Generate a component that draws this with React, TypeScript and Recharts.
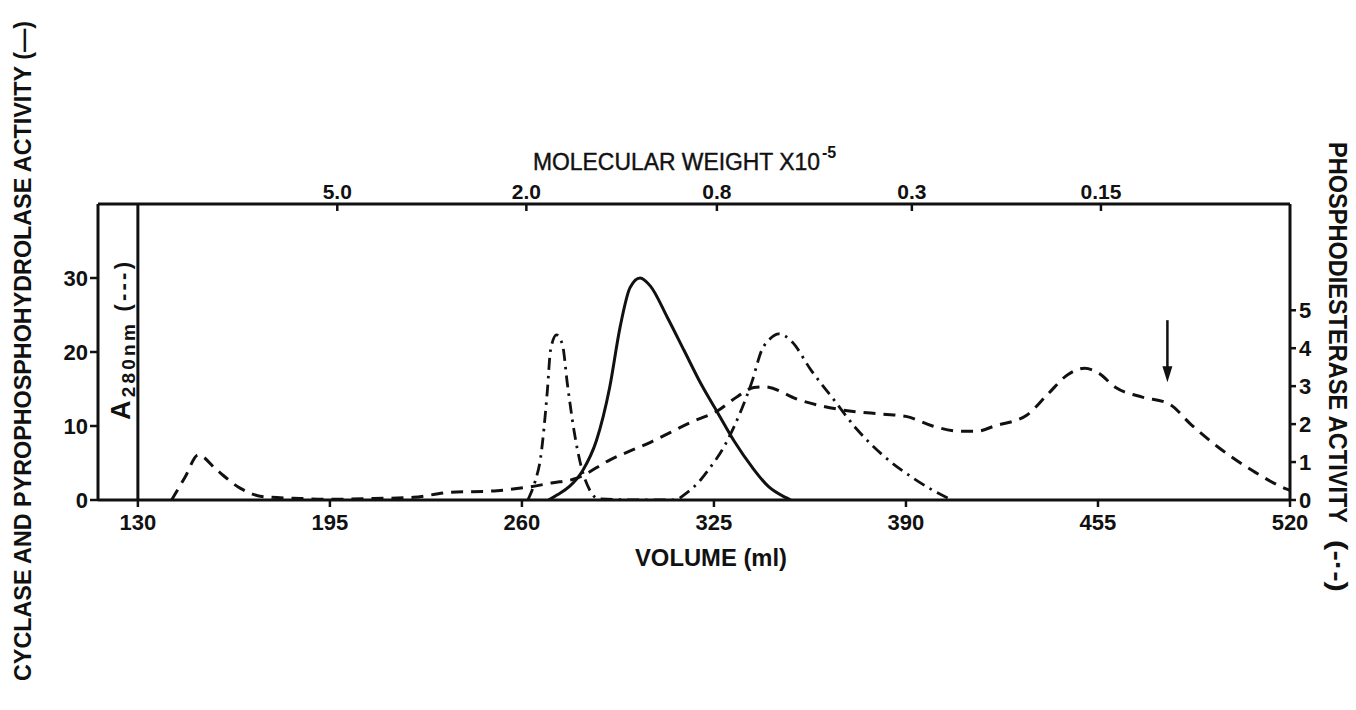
import { LineChart, Line, XAxis, YAxis, ReferenceLine } from "recharts";

// bottom axis: elution volume (ml)
const volumeTicks = [130, 195, 260, 325, 390, 455, 520];
// top axis: molecular weight x 10^-5, placed at the volume it sits over
const mwTickVolumes = [197.5, 261.5, 326, 392, 456];
const mwTickLabels = ["5.0", "2.0", "0.8", "0.3", "0.15"];
const leftTicks = [0, 10, 20, 30];
const rightTicks = [0, 1, 2, 3, 4, 5];

// A280nm (dashed, left axis)
const a280Volume = [141.4, 146, 150.4, 156.7, 164.6, 172.5, 185, 195, 210, 223.3, 234.7, 251.6, 263, 270, 278.3, 289.7, 303.5, 317.2, 326.4, 333, 338.5, 342, 354, 368, 382, 390, 399, 408, 414, 420, 431, 438, 445, 450.5, 455, 461, 470, 479, 486.5, 495.5, 508.4, 518.7, 520];
const a280Value = [0, 3.1, 6.1, 4.05, 1.6, 0.45, 0.2, 0.1, 0.2, 0.36, 1.0, 1.26, 1.8, 2.3, 2.9, 5.4, 7.8, 10.5, 12.1, 14, 15.2, 15.3, 13.5, 12.2, 11.6, 11.3, 10, 9.3, 9.3, 10, 11.5, 14.3, 17, 17.8, 17.2, 15.2, 13.9, 13, 10.2, 7.2, 3.7, 1.5, 1.3];

// cyclase and pyrophosphohydrolase activity (solid, left axis)
const cyclaseVolume = [269, 272, 276, 280.6, 285.2, 289.7, 293.2, 296.6, 300, 303.5, 309.2, 314.9, 320.6, 326.4, 332.1, 337.8, 343.5, 349.2, 351];
const cyclaseValue = [0, 0.7, 1.8, 4, 8, 15.2, 23.3, 28.7, 30, 28.9, 24.7, 20.2, 15.7, 11.7, 7.8, 4.5, 1.8, 0.35, 0];

// phosphodiesterase activity (dash-dot, right axis)
const pdeVolume = [262, 264.5, 266.3, 268.6, 269.7, 271.7, 273.7, 275.4, 277.7, 280, 282.9, 286, 300, 311.5, 316, 320.6, 323, 328.6, 334.4, 337.8, 341.2, 344, 347, 351.4, 357.8, 365.5, 373.3, 382.3, 392.6, 399, 405.5];
const pdeValue = [0, 0.5, 1.1, 2.87, 3.95, 4.35, 4.1, 3.05, 1.8, 0.9, 0.27, 0.03, 0, 0, 0.2, 0.54, 0.78, 1.43, 2.4, 3.1, 3.95, 4.25, 4.38, 4.17, 3.43, 2.65, 1.87, 1.17, 0.57, 0.26, 0];

// arrow marker over the A280 shoulder
const arrowVolume = 478.5;
const arrowTop = 24.3;
const arrowTip = 15.9;

const a280Data = a280Volume.map((v, i) => ({ volume: v, value: a280Value[i] }));
const cyclaseData = cyclaseVolume.map((v, i) => ({ volume: v, value: cyclaseValue[i] }));
const pdeData = pdeVolume.map((v, i) => ({ volume: v, value: pdeValue[i] }));

const INK = "#111";
const FONT = "'Liberation Sans', Arial, sans-serif";
const tickStyle = { fill: INK, fontSize: 22, fontWeight: "bold", fontFamily: FONT };

// top molecular-weight tick: short mark pointing into the plot, label above the frame
function MwMark(p: any) {
  const { x1, y1, y2, label } = p;
  const top = Math.min(y1, y2);
  return (
    <g>
      <line x1={x1} y1={top} x2={x1} y2={top + 7} stroke={INK} strokeWidth={2.5} />
      <text x={x1} y={top - 5} textAnchor="middle" fill={INK} fontSize={21} fontWeight="bold" fontFamily={FONT}>
        {label}
      </text>
    </g>
  );
}

function Arrow(p: any) {
  const { x1, y1, x2, y2 } = p;
  const top = Math.min(y1, y2);
  const tip = Math.max(y1, y2);
  return (
    <g>
      <line x1={x1} y1={top} x2={x2} y2={tip - 10} stroke={INK} strokeWidth={2.5} />
      <path d={`M${x2 - 5},${tip - 16} L${x2 + 5},${tip - 16} L${x2},${tip} Z`} fill={INK} />
    </g>
  );
}

export default function App() {
  return (
    <div style={{ position: "absolute", left: 0, top: 0, width: 1356, height: 710, background: "#fff" }}>
      <LineChart width={1356} height={710} margin={{ top: 174, right: 26, bottom: 180, left: 58 }}>
        <XAxis
          xAxisId="bottom"
          dataKey="volume"
          type="number"
          domain={[116.5, 520]}
          ticks={volumeTicks}
          allowDataOverflow
          height={30}
          axisLine={{ stroke: INK, strokeWidth: 3 }}
          tickLine={{ stroke: INK, strokeWidth: 2.5 }}
          tickSize={7}
          tickMargin={7}
          tick={tickStyle}
          interval={0}
        />
        <XAxis
          xAxisId="top"
          orientation="top"
          type="number"
          domain={[116.5, 520]}
          allowDataOverflow
          height={30}
          axisLine={{ stroke: INK, strokeWidth: 3 }}
          tickLine={false}
          tick={false}
        />
        <YAxis
          yAxisId="left"
          domain={[0, 40]}
          ticks={leftTicks}
          allowDataOverflow
          width={40}
          axisLine={{ stroke: INK, strokeWidth: 3 }}
          tickLine={{ stroke: INK, strokeWidth: 2.5 }}
          tickSize={8}
          tickMargin={2}
          tick={tickStyle}
          interval={0}
        />
        <YAxis
          yAxisId="right"
          orientation="right"
          domain={[0, 7.8]}
          ticks={rightTicks}
          allowDataOverflow
          width={40}
          axisLine={{ stroke: INK, strokeWidth: 3 }}
          tickLine={{ stroke: INK, strokeWidth: 2.5 }}
          tickSize={6}
          tickMargin={3}
          tick={tickStyle}
          interval={0}
        />
        <ReferenceLine xAxisId="bottom" yAxisId="left" x={130} stroke={INK} strokeWidth={3} />
        {mwTickVolumes.map((v, i) => (
          <ReferenceLine
            key={v}
            xAxisId="bottom"
            yAxisId="left"
            ifOverflow="visible"
            segment={[
              { x: v, y: 40 },
              { x: v, y: 39 },
            ]}
            shape={(p: any) => <MwMark {...p} label={mwTickLabels[i]} />}
          />
        ))}
        <ReferenceLine
          xAxisId="bottom"
          yAxisId="left"
          segment={[
            { x: arrowVolume, y: arrowTop },
            { x: arrowVolume, y: arrowTip },
          ]}
          shape={Arrow}
        />
        <Line
          data={a280Data}
          xAxisId="bottom"
          yAxisId="left"
          dataKey="value"
          type="monotone"
          stroke={INK}
          strokeWidth={3}
          strokeDasharray="12 8"
          dot={false}
          isAnimationActive={false}
        />
        <Line
          data={cyclaseData}
          xAxisId="bottom"
          yAxisId="left"
          dataKey="value"
          type="monotone"
          stroke={INK}
          strokeWidth={3}
          dot={false}
          isAnimationActive={false}
        />
        <Line
          data={pdeData}
          xAxisId="bottom"
          yAxisId="right"
          dataKey="value"
          type="monotone"
          stroke={INK}
          strokeWidth={2.8}
          strokeDasharray="12 6 2.5 6"
          dot={false}
          isAnimationActive={false}
        />
      </LineChart>

      <svg
        width={1356}
        height={710}
        style={{ position: "absolute", left: 0, top: 0, pointerEvents: "none" }}
        fontFamily={FONT}
        fill={INK}
      >
        <text x={533} y={170} fontSize={23} stroke={INK} strokeWidth={0.4} textLength={287} lengthAdjust="spacingAndGlyphs">
          MOLECULAR WEIGHT X10
        </text>
        <text x={822} y={158} fontSize={16} fontWeight="bold">
          -5
        </text>
        <text x={711} y={566} fontSize={24} fontWeight="bold" textAnchor="middle" textLength={152} lengthAdjust="spacingAndGlyphs">
          VOLUME (ml)
        </text>
        <text
          transform="translate(31, 351) rotate(-90)"
          fontSize={23.2}
          fontWeight="bold"
          textAnchor="middle"
          textLength={660}
          lengthAdjust="spacingAndGlyphs"
        >
          CYCLASE AND PYROPHOSPHOHYDROLASE ACTIVITY (—)
        </text>
        <text
          transform="translate(1329, 142) rotate(90)"
          fontSize={25}
          fontWeight="bold"
          textLength={381}
          lengthAdjust="spacingAndGlyphs"
        >
          PHOSPHODIESTERASE ACTIVITY
        </text>
        <text
          transform="translate(1329, 540) rotate(90)"
          fontSize={25}
          fontWeight="bold"
          textLength={52}
          lengthAdjust="spacingAndGlyphs"
        >
          (-·-)
        </text>
        <text transform="translate(130, 420) rotate(-90)" fontWeight="bold" textLength={158} lengthAdjust="spacing">
          <tspan fontSize={27}>A</tspan>
          <tspan fontSize={19} dy={5}>280nm</tspan>
          <tspan fontSize={22} dy={-5}> (---)</tspan>
        </text>
      </svg>
    </div>
  );
}
